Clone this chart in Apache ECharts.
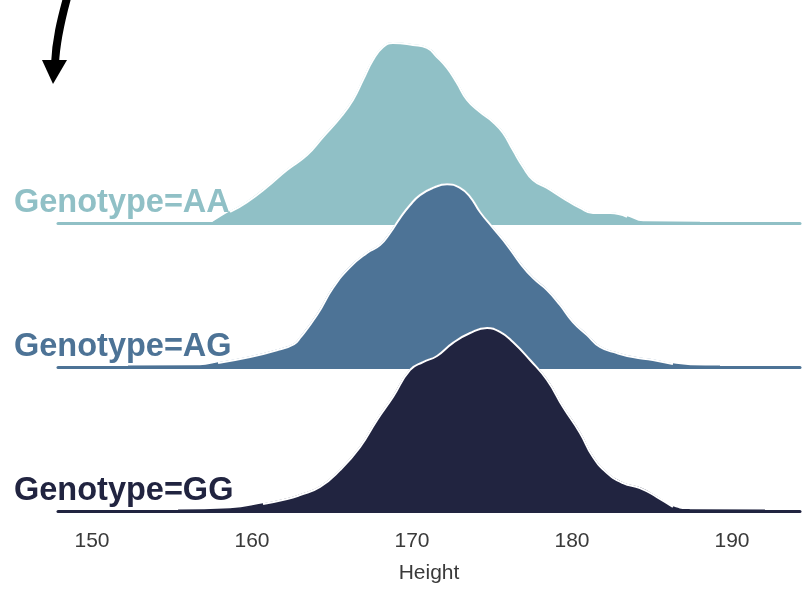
<!DOCTYPE html>
<html>
<head>
<meta charset="utf-8">
<script src="https://cdn.jsdelivr.net/npm/echarts@6/dist/echarts.min.js"></script>
<style>
html,body{margin:0;padding:0;background:#fff;}
#chart{width:808px;height:592px;}
</style>
</head>
<body>
<div id="chart"></div>
<script>
// ---- data ----
var groups = ['Genotype=AA', 'Genotype=AG', 'Genotype=GG'];
var colors = ['#90c0c6', '#4d7396', '#212440'];
var tickValues = [150, 160, 170, 180, 190];
var axisName = 'Height';

var heightsAA = [157.56, 158.63, 159.69, 160.94, 162.19, 163.44, 164.44, 165.5, 166.31, 166.94, 167.56, 168.19, 168.81, 170.06, 170.94, 171.56, 172.19, 172.81, 173.44, 174.25, 175.06, 175.69, 176.31, 176.94, 177.56, 178.44, 179.44, 180.5, 181.31, 182.38, 183.44, 184.44, 188.0];
var densAA   = [0.0003, 0.0049, 0.0093, 0.016, 0.0236, 0.0302, 0.0382, 0.0467, 0.0547, 0.0636, 0.0724, 0.0782, 0.080, 0.0791, 0.0778, 0.0738, 0.0689, 0.0622, 0.0547, 0.0493, 0.0449, 0.040, 0.0324, 0.0249, 0.0191, 0.0156, 0.0111, 0.0067, 0.0044, 0.0044, 0.0027, 0.0004, 0.0002];

var heightsAG = [152.25, 156.75, 157.88, 159.88, 161.63, 162.63, 163.0, 164.06, 165.06, 166.13, 167.19, 168.0, 168.63, 169.25, 169.88, 170.5, 171.31, 172.19, 173.0, 173.63, 174.25, 175.06, 175.94, 176.75, 177.56, 178.44, 179.25, 180.06, 180.94, 181.75, 182.81, 183.81, 185.06, 186.31, 187.4, 189.25];
var densAG   = [0.0003, 0.0005, 0.0018, 0.0044, 0.0076, 0.0102, 0.0129, 0.0231, 0.0351, 0.0444, 0.0507, 0.0542, 0.0596, 0.0662, 0.072, 0.0764, 0.0796, 0.0812, 0.0796, 0.0756, 0.0689, 0.0618, 0.0542, 0.0462, 0.0396, 0.0342, 0.0276, 0.020, 0.0142, 0.0089, 0.0062, 0.0044, 0.0031, 0.0013, 0.0005, 0.0003];

var heightsGG = [155.38, 158.63, 160.69, 162.19, 163.0, 164.25, 165.5, 166.75, 167.81, 168.81, 169.88, 170.69, 171.56, 172.56, 173.63, 174.69, 175.5, 176.31, 177.38, 178.44, 179.44, 180.5, 181.31, 182.19, 183.19, 184.25, 185.31, 186.31, 187.38, 192.06];
var densGG   = [0.0003, 0.0009, 0.0031, 0.0053, 0.0071, 0.0107, 0.0182, 0.0284, 0.0404, 0.0507, 0.0627, 0.0662, 0.0689, 0.0747, 0.0791, 0.0813, 0.0796, 0.0751, 0.0671, 0.0582, 0.0462, 0.0347, 0.024, 0.0169, 0.0124, 0.0102, 0.0062, 0.0018, 0.0005, 0.0003];

var heights = [heightsAA, heightsAG, heightsGG];
var dens = [densAA, densAG, densGG];

// ---- layout ----
var FONT = 'Liberation Sans, Arial, Helvetica, sans-serif';
var baselines = [223, 367, 511];
var gridH = 202.5;
var yMax = 0.09;
var xMin = 147.875, xMax = 194.25;

function pairs(xs, ys) { return xs.map(function (x, i) { return [x, ys[i]]; }); }

var grids = [], xAxes = [], yAxes = [], series = [], graphics = [];
for (var i = 0; i < 3; i++) {
  var last = (i === 2);
  grids.push({ left: 58, right: 8, top: baselines[i] - gridH, height: gridH, containLabel: false });
  xAxes.push({
    type: 'value', gridIndex: i, min: xMin, max: xMax,
    axisLine: { show: true, onZero: false, lineStyle: { color: colors[i], width: 3 } },
    axisTick: { show: false },
    splitLine: { show: false },
    axisLabel: last ? { show: true, customValues: tickValues, color: '#3a3a3a', fontSize: 21, fontFamily: FONT, margin: 20 } : { show: false },
    name: last ? axisName : '',
    nameLocation: 'middle', nameGap: 52,
    nameTextStyle: { color: '#3a3a3a', fontSize: 21, fontFamily: FONT }
  });
  yAxes.push({ type: 'value', gridIndex: i, min: 0, max: yMax, show: false });
  var d = pairs(heights[i], dens[i]);
  var outline = d.filter(function (p) { return p[1] > 0.001; });
  series.push({
    type: 'line', xAxisIndex: i, yAxisIndex: i, data: d, smooth: 0.5,
    showSymbol: false, clip: false, silent: true,
    lineStyle: { color: colors[i], width: 1.5 },
    areaStyle: { color: colors[i], opacity: 1 }
  });
  series.push({
    type: 'line', xAxisIndex: i, yAxisIndex: i, data: outline, smooth: 0.5,
    showSymbol: false, clip: false, silent: true,
    lineStyle: { color: '#ffffff', width: 2 }
  });
  graphics.push({
    type: 'text', left: 14, top: baselines[i] - 36, z: 100,
    style: { text: groups[i], fill: colors[i], font: 'bold 32.5px ' + FONT }
  });
}

// decorative arrow in the top-left corner
graphics.push({
  type: 'bezierCurve', z: 100,
  shape: { x1: 67, y1: -2, cpx1: 61, cpy1: 20, cpx2: 56, cpy2: 40, x2: 55, y2: 64 },
  style: { stroke: '#000', lineWidth: 8, fill: null }
});
graphics.push({
  type: 'polygon', z: 100,
  shape: { points: [[42, 60], [67, 60], [53, 84]] },
  style: { fill: '#000' }
});

var chart = echarts.init(document.getElementById('chart'), null, { renderer: 'canvas' });
chart.setOption({
  backgroundColor: '#ffffff',
  animation: false,
  grid: grids, xAxis: xAxes, yAxis: yAxes, series: series,
  graphic: graphics
});
</script>
</body>
</html>
